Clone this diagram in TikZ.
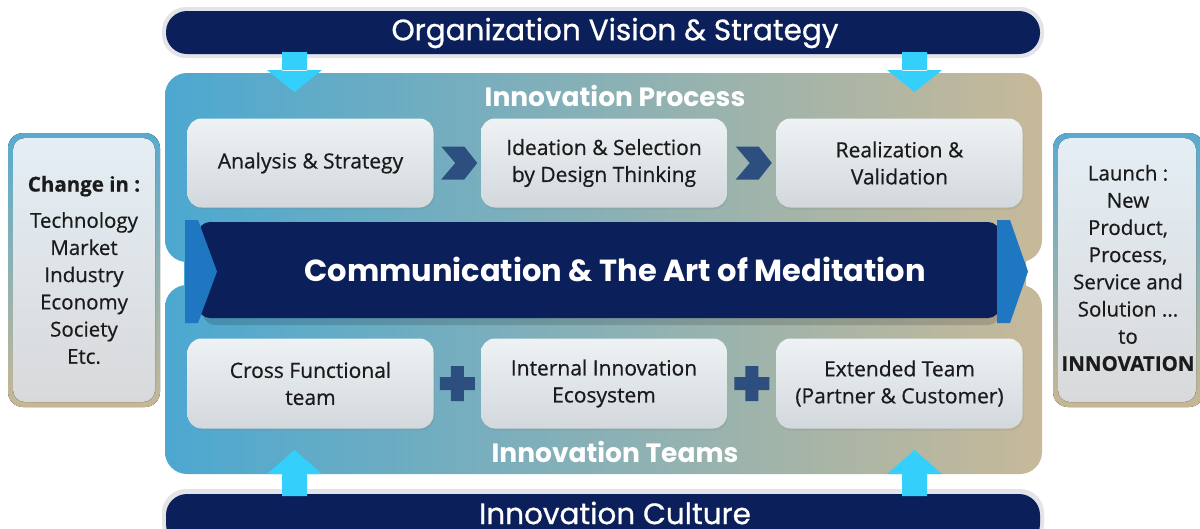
\documentclass[tikz,border=0pt]{standalone}
\usepackage{fontspec}
\setmainfont{Open Sans}
\newfontfamily\titlefont{Poppins}
\newfontfamily\bodyfont{Open Sans}[FakeBold=0.6]
\newfontfamily\bartitlefont{Poppins}[FakeBold=0.8]
\usetikzlibrary{shadows,calc}
\definecolor{navy}{HTML}{0B1F5B}
\definecolor{glow}{HTML}{E2E4E8}
\definecolor{cyanarr}{HTML}{35CFFB}
\definecolor{tab}{HTML}{1E77C0}
\definecolor{chev}{HTML}{2D4F80}
\definecolor{panL}{HTML}{4CA8D1}
\definecolor{panM}{HTML}{80AFBB}
\definecolor{panR}{HTML}{C7B999}
\definecolor{boxtop}{HTML}{EEF2F5}
\definecolor{boxbot}{HTML}{D2D8DC}
\definecolor{txt}{HTML}{1B1B1B}
\definecolor{sideB}{HTML}{58AAD0}
\definecolor{sideY}{HTML}{C6B794}
\definecolor{sideTop}{HTML}{E4EEF4}
\definecolor{sideBot}{HTML}{D8D9DB}
\begin{document}
\begin{tikzpicture}[x=1pt,y=-1pt,
  glowbar/.style={fill=glow,rounded corners=24},
  navybar/.style={fill=navy,rounded corners=21},
  bartext/.style={text=white,font=\bartitlefont\fontsize{29.5}{32}\selectfont},
  sectext/.style={text=white,font=\titlefont\bfseries\fontsize{26.5}{30}\selectfont},
  pbox/.style={rounded corners=14,top color=boxtop,bottom color=boxbot,minimum width=246pt,minimum height=89pt,
    align=center,text=txt,font=\bodyfont\fontsize{21}{27}\selectfont,inner sep=0pt,
    drop shadow={opacity=0.18,shadow xshift=1pt,shadow yshift=-2pt}},
  arr/.style={fill=cyanarr},
  chevron/.style={fill=chev},
  sideouter/.style={rounded corners=15,top color=sideB,bottom color=sideY},
  sideinner/.style={rounded corners=12,top color=sideTop,bottom color=sideBot},
  sidetext/.style={align=center,text=txt,font=\bodyfont\fontsize{20.5}{27.2}\selectfont}
]
\clip (0,0) rectangle (1200,528);
\fill[white] (0,0) rectangle (1200,528);

% main panel
\shade[left color=panL,middle color=panM,right color=panR]
  [rounded corners=22] (165,73) rectangle (1042,262) (165,285) rectangle (1042,474)
  [sharp corners] (184,240) rectangle (1026,305);

% top & bottom bars
\fill[glowbar] (162,7) rectangle (1044,58);
\fill[navybar] (166,11) rectangle (1040,54);
\node[bartext] (vision) at (615,33) {Organization Vision \& Strategy};
\fill[glowbar] (162,489) rectangle (1044,548);
\fill[navybar] (166,494) rectangle (1040,545);
\node[bartext] (culture) at (615,513) {Innovation Culture};

% down arrows
\fill[arr] (282,52) rectangle (307,71) (267,70) -- (322,70) -- (294.5,92) -- cycle;
\fill[arr] (902,52) rectangle (927,71) (887,70) -- (942,70) -- (914.5,92) -- cycle;
% up arrows
\fill[arr] (282,473) rectangle (307,496) (267,474) -- (322,474) -- (294.5,450) -- cycle;
\fill[arr] (902,473) rectangle (927,496) (887,474) -- (942,474) -- (914.5,450) -- cycle;

\node[sectext] (proc) at (615,96) {Innovation Process};
\node[sectext] (teams) at (615,452) {Innovation Teams};

% process boxes
\node[pbox] (p1) at (310.5,163) {Analysis \& Strategy};
\node[pbox] (p2) at (604,163) {Ideation \& Selection\\by Design Thinking};
\node[pbox] (p3) at (899.5,163) {Realization \&\\Validation};

\foreach \a/\b in {p1/p2,p2/p3}{
  \path let \p1=($(\a.east)!0.5!(\b.west)$) in
    \pgfextra{\xdef\cx{\x1}\xdef\cy{\y1}};
  \fill[chevron,shift={(\cx,\cy)},x=1pt,y=-1pt] (-16,-16.5) -- (7,-16.5) -- (20,0) -- (7,16.5) -- (-16,16.5) -- (-2,0) -- cycle;
}

% team boxes
\node[pbox,minimum height=90pt] (t1) at (310.5,383.5) {Cross Functional\\team};
\node[pbox,minimum height=90pt] (t2) at (604,383.5) {Internal Innovation\\Ecosystem};
\node[pbox,minimum height=90pt] (t3) at (899.5,383.5) {Extended Team\\(Partner \& Customer)};

\foreach \a/\b in {t1/t2,t2/t3}{
  \path let \p1=($(\a.east)!0.5!(\b.west)$) in
    \pgfextra{\xdef\cx{\x1}\xdef\cy{\y1}};
  \fill[chevron,shift={(\cx,\cy)},x=1pt,y=-1pt] (-17.5,-6.5) rectangle (17.5,6.5) (-6.5,-17.5) rectangle (6.5,17.5);
}

% communication band
\fill[black,opacity=0.15,rounded corners=12] (203,227) rectangle (1000,325);
\fill[navy,rounded corners=12] (198,222) rectangle (1000,318);
\fill[tab] (185,220) -- (198,220) -- (217,271.5) -- (198,323) -- (185,323) -- cycle;
\fill[tab] (997,220) -- (1010,220) -- (1028,271.5) -- (1010,323) -- (997,323) -- cycle;
\node[text=white,font=\titlefont\bfseries\fontsize{30.5}{33}\selectfont] (comm) at (615,269) {Communication \& The Art of Meditation};

% side boxes
\fill[sideouter] (8,133) rectangle (160,407);
\fill[sideinner] (13,138) rectangle (155,402);
\node[sidetext] (change) at (84,270) {\textbf{Change in :}\\[9pt]Technology\\Market\\Industry\\Economy\\Society\\Etc.};
\fill[sideouter] (1053,133) rectangle (1204,407);
\fill[sideinner] (1058,138) rectangle (1196,402);
\node[sidetext] (launch) at (1128,268) {Launch :\\New\\Product,\\Process,\\Service and\\Solution ...\\to\\\textbf{INNOVATION}};
\end{tikzpicture}
\end{document}
